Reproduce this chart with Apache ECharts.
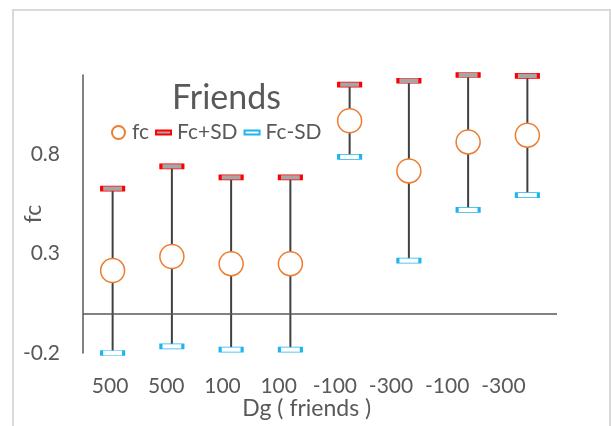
<!DOCTYPE html>
<html>
<head>
<meta charset="utf-8">
<script src="https://cdn.jsdelivr.net/npm/echarts@6/dist/echarts.min.js"></script>
<style>html,body{margin:0;padding:0;background:#fff;}#c{width:611px;height:426px;}</style>
</head>
<body>
<div id="c"></div>
<script>
// ---- data ----
var categories = ['500', '500', '100', '100', '-100', '-300', '-100', '-300'];
var fc      = [0.215, 0.286, 0.25, 0.25, 0.97, 0.717, 0.863, 0.897];
var fcPlus  = [0.628, 0.74, 0.684, 0.684, 1.152, 1.171, 1.2, 1.196];
var fcMinus = [-0.2, -0.167, -0.183, -0.183, 0.788, 0.265, 0.521, 0.595];
var yTickLabels = [-0.2, 0.3, 0.8];

var FONT = 'Lato, "Open Sans", sans-serif';
var TXT = '#595959';

var chart = echarts.init(document.getElementById('c'), null, {renderer: 'canvas'});

var barData = categories.map(function (c, i) { return [i, fcPlus[i], fcMinus[i]]; });

chart.setOption({
  animation: false,
  backgroundColor: '#fff',
  textStyle: {fontFamily: FONT},
  graphic: [{
    type: 'rect', silent: true, z: -10,
    shape: {x: 13, y: 10, width: 597, height: 430},
    style: {fill: 'none', stroke: '#d9d9d9', lineWidth: 2}
  }],
  title: {
    text: 'Friends',
    left: 172, top: 81,
    padding: 0,
    textStyle: {fontFamily: FONT, fontSize: 34, fontWeight: 'normal', color: TXT}
  },
  legend: {
    left: 111, top: 122,
    padding: 0,
    itemWidth: 15, itemHeight: 13, itemGap: 6,
    textStyle: {fontFamily: FONT, fontSize: 21, color: TXT, padding: [0, 0, 0, 1]},
    data: [
      {name: 'fc', icon: 'circle'},
      {name: 'Fc+SD', icon: 'path://M0,0 h15 v4 h-15 z'},
      {name: 'Fc-SD', icon: 'path://M0,0 h15 v4 h-15 z'}
    ]
  },
  grid: [
    {left: 83, right: 54, top: 75, bottom: 73, containLabel: false, outerBoundsMode: 'none'},
    {left: 82, right: 79.5, top: 75, bottom: 73, containLabel: false, outerBoundsMode: 'none'}
  ],
  xAxis: [
    {
      type: 'category',
      gridIndex: 0,
      data: categories,
      axisLine: {show: false},
      axisTick: {show: false},
      axisLabel: {show: false}
    },
    {
      type: 'category',
      gridIndex: 1,
      data: categories,
      position: 'bottom',
      axisLine: {show: false},
      axisTick: {show: false},
      axisLabel: {fontFamily: FONT, fontSize: 21, color: TXT, margin: 23, interval: 0},
      name: 'Dg ( friends )',
      nameLocation: 'middle',
      nameGap: 44,
      nameMoveOverlap: false,
      nameTextStyle: {fontFamily: FONT, fontSize: 23, color: TXT}
    }
  ],
  yAxis: [
    {
      type: 'value',
      gridIndex: 0,
      min: -0.2, max: 1.2,
      splitLine: {show: false},
      axisTick: {show: false},
      axisLine: {show: true, onZero: false, lineStyle: {color: '#595959', width: 1.5}},
      axisLabel: {fontFamily: FONT, fontSize: 21, color: TXT, margin: 23, customValues: yTickLabels},
      name: 'fc',
      nameLocation: 'middle',
      nameRotate: 90,
      nameGap: 38,
      nameMoveOverlap: false,
      nameTextStyle: {fontFamily: FONT, fontSize: 23, color: TXT}
    },
    {
      type: 'value',
      gridIndex: 1,
      min: -0.2, max: 1.2,
      show: false
    }
  ],
  series: [
    {
      name: 'bars',
      type: 'custom',
      z: 1,
      silent: true,
      data: barData,
      renderItem: function (params, api) {
        var top = api.coord([api.value(0), api.value(1)]);
        var bot = api.coord([api.value(0), api.value(2)]);
        return {
          type: 'line',
          shape: {x1: top[0], y1: top[1], x2: bot[0], y2: bot[1]},
          style: {stroke: '#404040', lineWidth: 2}
        };
      },
      markLine: {
        silent: true,
        symbol: 'none',
        label: {show: false},
        lineStyle: {color: '#595959', width: 1.5, type: 'solid'},
        data: [{yAxis: 0}]
      }
    },
    {
      name: 'fc',
      type: 'scatter',
      z: 3,
      clip: false,
      symbol: 'circle',
      symbolSize: 24,
      itemStyle: {color: '#ffffff', borderColor: '#ED7D31', borderWidth: 1.5, opacity: 1},
      data: fc
    },
    {
      name: 'Fc+SD',
      type: 'scatter',
      z: 3,
      clip: false,
      symbol: 'rect',
      symbolSize: [22, 5],
      itemStyle: {color: '#a6a6a6', borderColor: '#ff0000', borderWidth: 1.5, opacity: 1},
      data: fcPlus
    },
    {
      name: 'Fc-SD',
      type: 'scatter',
      z: 3,
      clip: false,
      symbol: 'rect',
      symbolSize: [22, 5],
      itemStyle: {color: '#ffffff', borderColor: '#1CB5F0', borderWidth: 1.5, opacity: 1},
      data: fcMinus
    }
  ]
});
</script>
</body>
</html>
